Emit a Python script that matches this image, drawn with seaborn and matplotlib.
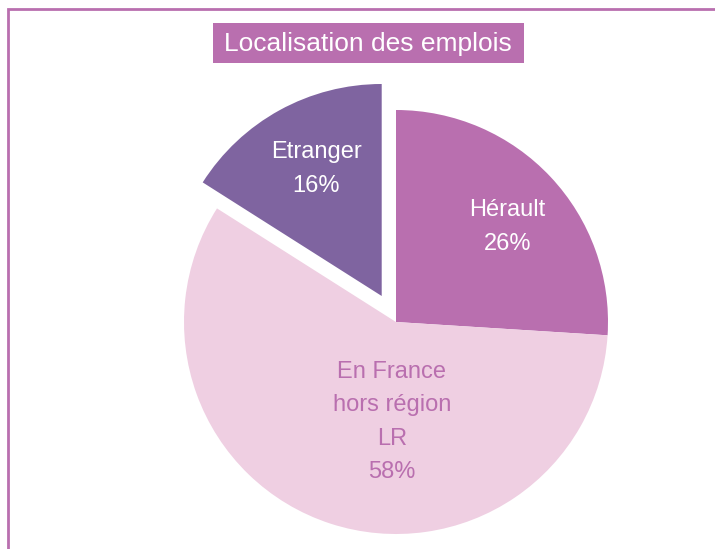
import numpy as np
import matplotlib
matplotlib.use("Agg")
import matplotlib.pyplot as plt
import seaborn as sns
from matplotlib.patches import Rectangle

# Data
names = ["Hérault", "En France\nhors région\nLR", "Etranger"]
shares = [26, 58, 16]
colors = ["#B96FAF", "#EFCFE2", "#7F64A0"]
text_colors = ["white", "#B96FAF", "white"]
explode = [0, 0, 0.14]
# label placement (radius, angle in degrees) measured from each wedge center
label_pos = [(0.69, 40.5), (0.472, -92.3), (0.675, 117.3)]

sns.set_style("white")
plt.rcParams['font.family'] = ['Liberation Sans', 'DejaVu Sans']

fig = plt.figure(figsize=(7.15, 5.49), dpi=100)

# frame around the chart (extends past right/bottom edge like the original)
fig.patches.append(Rectangle((8 / 715, -0.05), 1.2, 1 - 9 / 549 + 0.05,
                             transform=fig.transFigure, fill=False,
                             edgecolor="#B96FAF", linewidth=2))

# pie axes: center at (396, 322) px, radius 212 px
half = 212 * 1.2
ax = fig.add_axes([(396 - half) / 715, (549 - 322 - half) / 549,
                   2 * half / 715, 2 * half / 549])
wedges, _ = ax.pie(shares, colors=colors, startangle=90, counterclock=False,
                   explode=explode, wedgeprops=dict(linewidth=0))
ax.set_xlim(-1.2, 1.2)
ax.set_ylim(-1.2, 1.2)
ax.set_aspect("equal")
ax.axis("off")
for w in wedges:
    w.set_clip_on(False)

# labels
for i, w in enumerate(wedges):
    cx, cy = w.center
    r, a = label_pos[i]
    a = np.deg2rad(a)
    ax.text(cx + r * np.cos(a), cy + r * np.sin(a),
            f"{names[i]}\n{shares[i]}%", ha="center", va="center",
            color=text_colors[i], fontsize=17, linespacing=1.68)

# title box
fig.patches.append(Rectangle((213 / 715, 1 - 63 / 549), 311 / 715, 40 / 549,
                             transform=fig.transFigure, facecolor="#B96FAF",
                             edgecolor="none"))
fig.text(368 / 715, 1 - 44 / 549, "Localisation des emplois", ha="center",
         va="center", color="white", fontsize=19)

fig.savefig("out.png", dpi=100)
